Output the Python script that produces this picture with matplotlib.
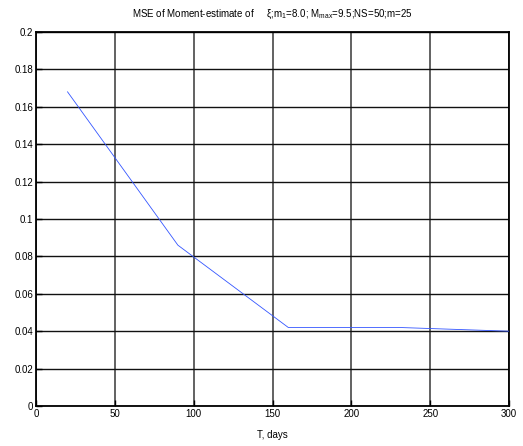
import numpy as np
import matplotlib.pyplot as plt

plt.rcParams["font.family"] = ["Liberation Sans", "DejaVu Sans"]
plt.rcParams["mathtext.fontset"] = "custom"
plt.rcParams["mathtext.rm"] = "Liberation Sans"
plt.rcParams["mathtext.it"] = "Liberation Sans"

T_days = [20, 90, 160, 230, 300]
mse = [0.168, 0.086, 0.042, 0.042, 0.040]
x_ticks = [0, 50, 100, 150, 200, 250, 300]
y_ticks = [0, 0.02, 0.04, 0.06, 0.08, 0.1, 0.12, 0.14, 0.16, 0.18, 0.2]
y_labels = ["0", "0.02", "0.04", "0.06", "0.08", "0.1", "0.12", "0.14", "0.16", "0.18", "0.2"]

fig = plt.figure(figsize=(5.23, 4.46), dpi=100)
ax = fig.add_axes([36 / 523, 40 / 446, 473 / 523, 374 / 446])

ax.plot(T_days, mse, color="#3355ff", linewidth=0.6, zorder=3)

ax.set_xlim(0, 300)
ax.set_ylim(0, 0.2)
ax.set_xticks(x_ticks)
ax.set_yticks(y_ticks)
ax.set_yticklabels(y_labels)
ax.tick_params(direction="in", labelsize=7, length=4, width=1.0, pad=2)
ax.grid(True, axis="y", color="#111111", linestyle="-", linewidth=1.0)
ax.grid(True, axis="x", color="#555555", linestyle="-", linewidth=1.3)
ax.set_axisbelow(True)
for s in ax.spines.values():
    s.set_linewidth(1.3)

ax.set_xlabel("T, days", fontsize=7, labelpad=8)
ax.set_title("MSE of Moment-estimate of     \u03be;m$_1$=8.0; M$_{max}$=9.5;NS=50;m=25",
             fontsize=7, pad=11)

fig.savefig("out.png", dpi=100)
